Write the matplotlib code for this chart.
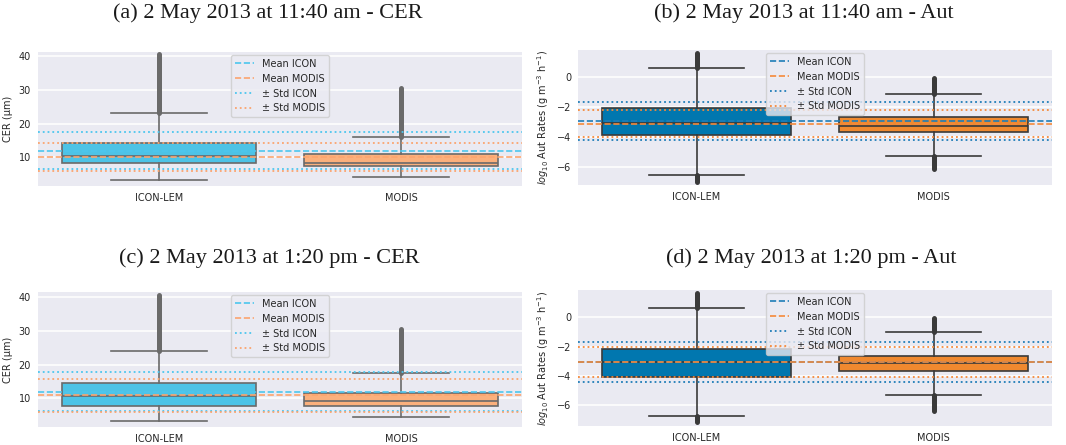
import matplotlib
matplotlib.use("Agg")
import matplotlib.pyplot as plt
from matplotlib.lines import Line2D

categories = ["ICON-LEM", "MODIS"]
titles = ["(a) 2 May 2013 at 11:40 am - CER", "(b) 2 May 2013 at 11:40 am - Aut",
          "(c) 2 May 2013 at 1:20 pm - CER", "(d) 2 May 2013 at 1:20 pm - Aut"]
legend_labels = ["Mean ICON", "Mean MODIS", "\u00b1 Std ICON", "\u00b1 Std MODIS"]
ylabels = ["CER (\u03bcm)", "$log_{10}$ Aut Rates (g m$^{-3}$ h$^{-1}$)"]

# (a) CER 11:40
a_whislo = [3.3, 4.3]
a_q1 = [8.2, 7.4]
a_med = [10.5, 8.3]
a_q3 = [14.1, 10.9]
a_whishi = [23.2, 16.1]
a_fly_top = [40.5, 30.5]
a_fly_bot = [None, None]
a_mean = [11.9, 10.0]
a_std = [5.5, 4.2]

# (b) Aut 11:40
b_whislo = [-6.53, -5.27]
b_q1 = [-3.89, -3.71]
b_med = [-3.10, -3.27]
b_q3 = [-2.11, -2.71]
b_whishi = [0.60, -1.16]
b_fly_top = [1.56, -0.10]
b_fly_bot = [-7.00, -6.18]
b_mean = [-2.95, -3.13]
b_std = [1.25, 0.89]

# (c) CER 13:20
c_whislo = [3.3, 4.4]
c_q1 = [7.8, 7.7]
c_med = [10.8, 9.3]
c_q3 = [14.4, 11.7]
c_whishi = [24.0, 17.6]
c_fly_top = [40.5, 30.5]
c_fly_bot = [None, None]
c_mean = [12.0, 10.9]
c_std = [5.9, 4.9]

# (d) Aut 13:20
d_whislo = [-6.73, -5.30]
d_q1 = [-4.05, -3.66]
d_med = [-3.05, -3.14]
d_q3 = [-2.14, -2.61]
d_whishi = [0.64, -1.00]
d_fly_top = [1.64, -0.07]
d_fly_bot = [-7.11, -6.36]
d_mean = [-3.05, -3.02]
d_std = [1.365, 1.02]

panels = [
    (a_whislo, a_q1, a_med, a_q3, a_whishi, a_fly_top, a_fly_bot, a_mean, a_std),
    (b_whislo, b_q1, b_med, b_q3, b_whishi, b_fly_top, b_fly_bot, b_mean, b_std),
    (c_whislo, c_q1, c_med, c_q3, c_whishi, c_fly_top, c_fly_bot, c_mean, c_std),
    (d_whislo, d_q1, d_med, d_q3, d_whishi, d_fly_top, d_fly_bot, d_mean, d_std),
]

light_fill = ["#4DC3E6", "#FBB07C"]
light_line = ["#4CC6EE", "#FBA46E"]
dark_fill = ["#0177AF", "#F0892F"]
dark_line = ["#1F7DB8", "#F5893A"]

positions_px = [
    (38, 52, 522, 186),
    (578, 50, 1052, 185),
    (38, 292, 522, 427),
    (578, 290, 1052, 426),
]
ylims = [(1.5, 41.2), (-7.22, 1.78), (1.5, 41.5), (-7.41, 1.86)]
yticks = [[10, 20, 30, 40], [-6, -4, -2, 0], [10, 20, 30, 40], [-6, -4, -2, 0]]
title_pos = [(268, 13), (804, 13), (269, 258), (811, 258)]

W, H = 1066, 445
fig = plt.figure(figsize=(W / 100, H / 100), dpi=100)

for i, (wlo, q1, med, q3, whi, ftop, fbot, mean, std) in enumerate(panels):
    l, t, r, b = positions_px[i]
    ax = fig.add_axes([l / W, 1 - b / H, (r - l) / W, (b - t) / H])
    ax.set_facecolor("#EAEAF2")
    for s in ax.spines.values():
        s.set_visible(False)
    ax.set_axisbelow(True)
    ax.yaxis.grid(True, color="white", lw=1.1)
    ax.xaxis.grid(False)

    is_cer = (i % 2 == 0)
    fills = light_fill if is_cer else dark_fill
    lcols = light_line if is_cer else dark_line
    edge = "#6A6A6A" if is_cer else "#3A3A3A"

    stats = []
    for k in range(len(categories)):
        stats.append(dict(whislo=wlo[k], q1=q1[k], med=med[k], q3=q3[k],
                          whishi=whi[k], fliers=[], label=categories[k]))
    bp = ax.bxp(stats, positions=list(range(len(categories))), widths=0.8,
                capwidths=0.4, showfliers=False, patch_artist=True,
                boxprops=dict(edgecolor=edge, linewidth=1.2),
                whiskerprops=dict(color=edge, linewidth=1.2),
                capprops=dict(color=edge, linewidth=1.2),
                medianprops=dict(color=edge, linewidth=1.2))
    for patch, fc in zip(bp["boxes"], fills):
        patch.set_facecolor(fc)
    for k in range(len(categories)):
        ax.plot([k, k], [whi[k], ftop[k]], color=edge, lw=3.6,
                solid_capstyle="round", zorder=2.5)
        if fbot[k] is not None:
            ax.plot([k, k], [wlo[k], fbot[k]], color=edge, lw=3.6,
                    solid_capstyle="round", zorder=2.5)

    for k in range(len(categories)):
        ax.axhline(mean[k], color=lcols[k], ls="--", lw=1.2, zorder=3)
    for k in range(len(categories)):
        ax.axhline(mean[k] + std[k], color=lcols[k], ls=":", lw=1.3, zorder=3)
        ax.axhline(mean[k] - std[k], color=lcols[k], ls=":", lw=1.3, zorder=3)

    ax.set_xlim(-0.5, len(categories) - 0.5)
    ax.set_ylim(*ylims[i])
    ax.set_yticks(yticks[i])
    ax.set_xticks(range(len(categories)))
    ax.set_xticklabels(categories)
    ax.tick_params(axis="both", length=0, labelsize=7, colors="#262626", pad=5)
    ax.set_ylabel(ylabels[0] if is_cer else ylabels[1], fontsize=7, color="#262626")

    handles = [Line2D([], [], color=lcols[0], ls="--", lw=1.2),
               Line2D([], [], color=lcols[1], ls="--", lw=1.2),
               Line2D([], [], color=lcols[0], ls=":", lw=1.3),
               Line2D([], [], color=lcols[1], ls=":", lw=1.3)]
    leg = ax.legend(handles, legend_labels, loc="upper center", fontsize=7,
                    facecolor="#EAEAF2", framealpha=0.8, edgecolor="#CCCCCC",
                    borderaxespad=0.3)
    for txt in leg.get_texts():
        txt.set_color("#262626")
    leg.set_zorder(10)

    tx, ty = title_pos[i]
    fig.text(tx / W, 1 - ty / H, titles[i], ha="center", va="center",
             fontsize=16, family="Liberation Serif", color="#1a1a1a")

fig.savefig("out.png", dpi=100)
